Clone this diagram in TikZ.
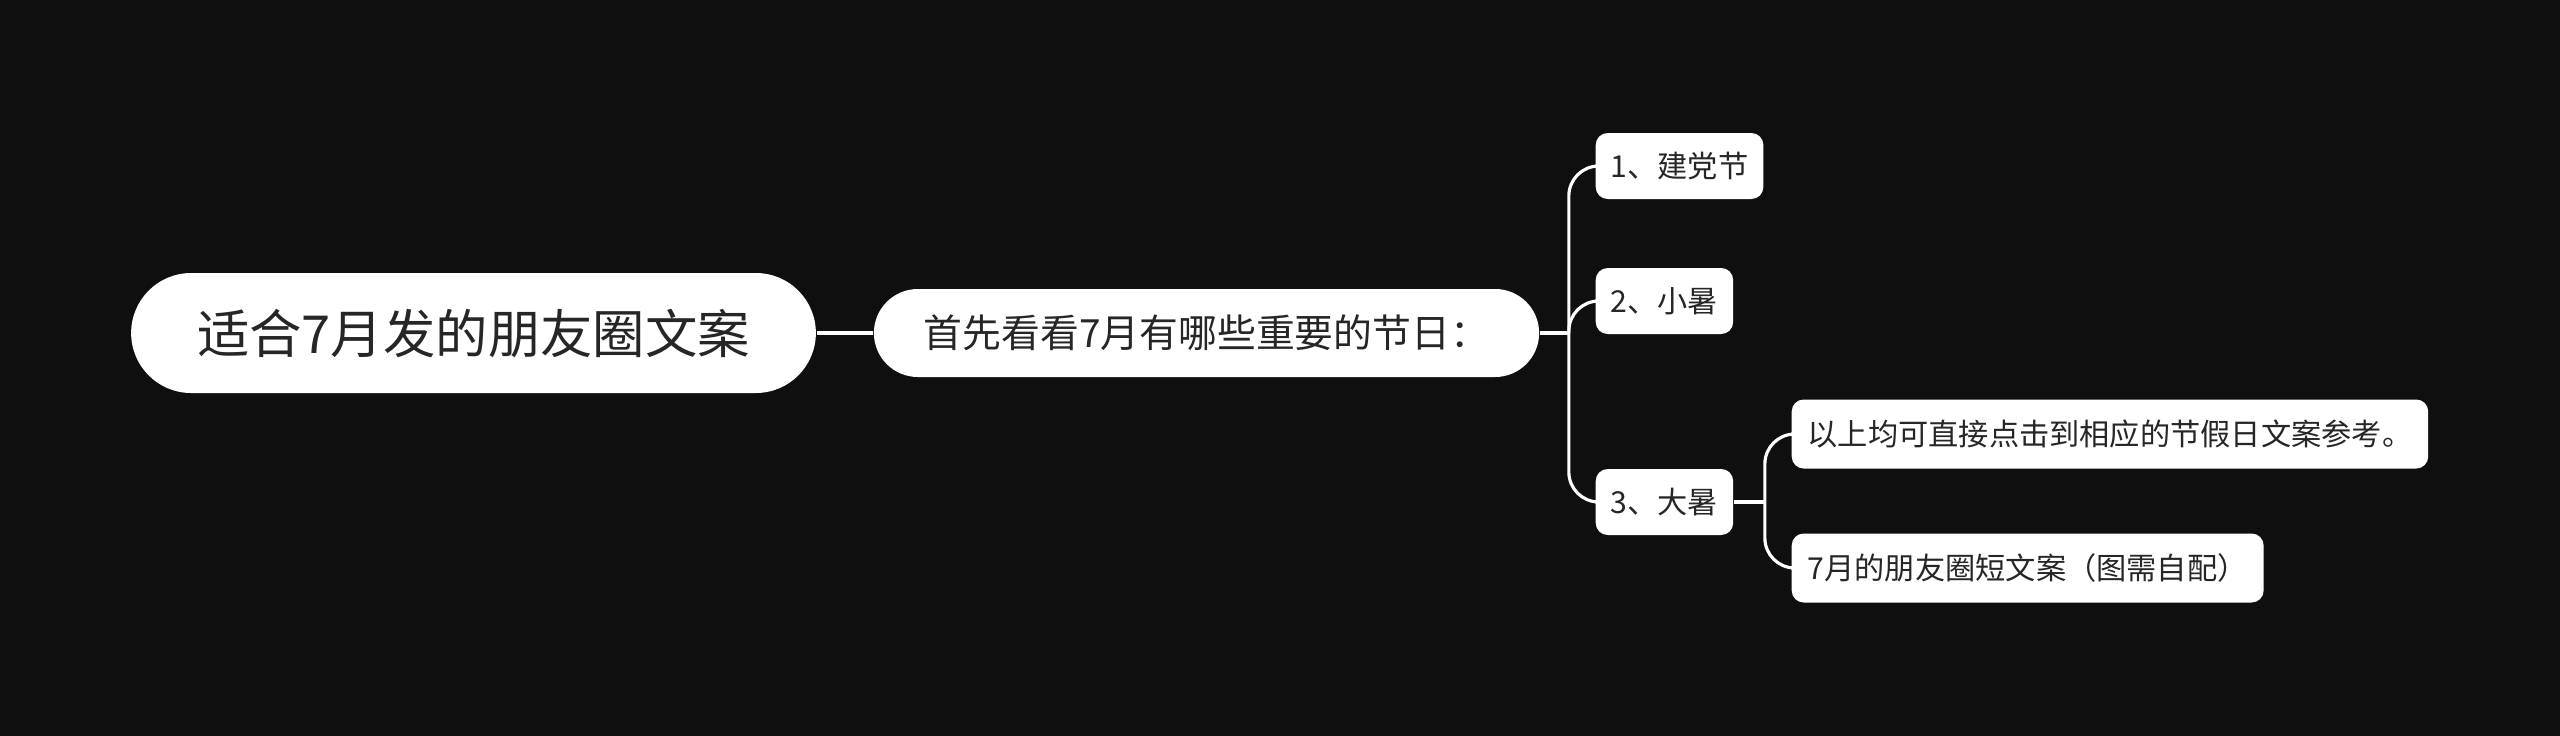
\documentclass[tikz,border=0pt]{standalone}
\usepackage{fontspec}
\setmainfont{Noto Sans CJK SC}
\usepackage{xcolor}
\usetikzlibrary{positioning,calc}
\definecolor{bgdark}{HTML}{0F0F0F}
\definecolor{textdark}{HTML}{262626}

\begin{document}
\begin{tikzpicture}[
  rootbox/.style={
    rectangle, rounded corners=0.6cm, fill=white, text=textdark,
    minimum height=1.2cm, inner xsep=0.66cm, inner ysep=0pt,
    font=\fontsize{14.9}{18}\selectfont
  },
  mainbox/.style={
    rectangle, rounded corners=0.44cm, fill=white, text=textdark,
    minimum height=0.88cm, inner xsep=0.5cm, inner ysep=0pt,
    font=\fontsize{11.05}{14}\selectfont
  },
  leafbox/.style={
    rectangle, rounded corners=0.12cm, fill=white, text=textdark,
    minimum height=0.66cm, inner xsep=0.15cm, inner ysep=0pt,
    font=\fontsize{8.6}{10}\selectfont
  },
  link/.style={draw=white, line width=0.9pt, rounded corners=0.3cm}
]

\useasboundingbox (0,0) rectangle (25.6,7.35);
\fill[bgdark] (-0.2,-0.2) rectangle (25.8,7.55);

\node[rootbox] (R) at (4.735, 4.02) {适合7月发的朋友圈文案};
\node[mainbox] (M) at (12.065, 4.02) {首先看看7月有哪些重要的节日：};

\node[leafbox, anchor=west] (D1) at (15.95, 5.69) {1、建党节};
\node[leafbox, anchor=west] (D2) at (15.95, 4.34) {2、小暑};
\node[leafbox, anchor=west] (D3) at (15.95, 2.33) {3、大暑};

\node[leafbox, anchor=west, minimum height=0.69cm, inner xsep=0.16cm] (T1) at (17.91, 3.01) {以上均可直接点击到相应的节假日文案参考。};
\node[leafbox, anchor=west, minimum height=0.69cm, inner xsep=0.16cm] (T2) at (17.91, 1.67) {7月的朋友圈短文案（图需自配）};

\coordinate (F1) at ($(M.east) + (0.29, 0)$);
\coordinate (F2) at ($(D3.east) + (0.31, 0)$);

\draw[link] (R.east) -- (M.west);
\draw[link] (M.east) -- (F1);
\draw[link] (F1) |- (D1.west);
\draw[link] (F1) |- (D2.west);
\draw[link] (F1) |- (D3.west);

\draw[link] (D3.east) -- (F2);
\draw[link] (F2) |- (T1.west);
\draw[link] (F2) |- (T2.west);

\end{tikzpicture}
\end{document}
